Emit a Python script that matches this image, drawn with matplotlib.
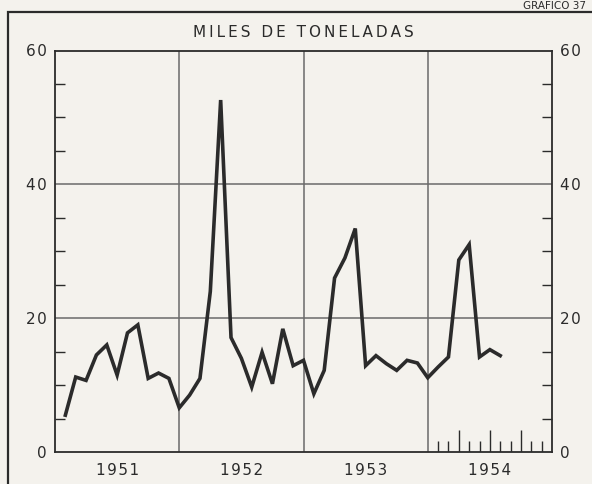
import numpy as np
import matplotlib
matplotlib.use("Agg")
import matplotlib.pyplot as plt
from matplotlib.patches import Rectangle

# valeurs mensuelles (miles de toneladas)
v1951 = [5.5, 11.2, 10.7, 14.5, 16.0, 11.5, 17.8, 19.0, 11.0, 11.8, 11.0, 6.6]
v1952 = [8.5, 11.0, 24.0, 52.6, 17.1, 14.0, 9.7, 14.9, 10.2, 18.4, 12.9, 13.7]
v1953 = [8.7, 12.2, 26.0, 29.0, 33.4, 12.9, 14.4, 13.2, 12.2, 13.7, 13.3, 11.1]
v1954 = [12.7, 14.2, 28.7, 31.0, 14.2, 15.3, 14.4]

annees = ["1951", "1952", "1953", "1954"]
y_ticks = [0, 20, 40, 60]
titre = "MILES DE TONELADAS"
entete = "GRAFICO 37"

valeurs = v1951 + v1952 + v1953 + v1954
mois = np.arange(1, len(valeurs) + 1)

fond = "#f4f2ed"
encre = "#2b2b2b"
gris = "#6a6a6a"


def espace(txt, sep="\u2009"):
    # lettres espacées comme sur l'original
    return sep.join(txt)


fig = plt.figure(figsize=(5.92, 4.84), dpi=100, facecolor=fond)
ax = fig.add_axes([55 / 592, 32 / 484, 497 / 592, 401.5 / 484])
ax.set_facecolor(fond)

ax.set_xlim(0, 48)
ax.set_ylim(0, 60)

# grille : limites des années et lignes 20 / 40
for b in [12, 24, 36]:
    ax.axvline(b, color=gris, lw=1.1, zorder=1)
for h in [20, 40]:
    ax.axhline(h, color=gris, lw=1.1, zorder=1)

# petites graduations mensuelles de 1954
for m in range(37, 48):
    haut = 0.055 if (m - 36) % 3 == 0 else 0.028
    ax.vlines(m, 0, haut, transform=ax.get_xaxis_transform(), color=encre, lw=1.0)

ax.plot(mois, valeurs, color=encre, lw=2.6, solid_joinstyle="miter", zorder=3)

for s in ax.spines.values():
    s.set_color(encre)
    s.set_linewidth(1.3)

ax.set_xticks([6, 18, 30, 42])
ax.set_xticklabels([espace(a, "\u200a") for a in annees])
ax.tick_params(axis="x", length=0, pad=8, labelsize=11, colors=encre)

ax.set_yticks(y_ticks)
ax.set_yticklabels([espace(str(t), "\u200a") for t in y_ticks])
ax.set_yticks([t for t in range(5, 60, 5) if t % 20], minor=True)
ax.tick_params(axis="y", which="major", length=0, pad=6, labelsize=11,
               colors=encre, left=True, right=True, labelleft=True, labelright=True)
ax.tick_params(axis="y", which="minor", direction="in", length=7, width=1.0,
               color=encre, left=True, right=True)

ax.set_title(espace(titre), fontsize=11, color=encre, pad=10)

# cadre extérieur et en-tête en haut à droite
fig.patches.append(Rectangle((8 / 592, -0.1), 1.0, 1.1 - 12 / 484,
                             transform=fig.transFigure, fill=False,
                             edgecolor=encre, lw=1.6))
fig.text(0.99, 1 - 9 / 484, entete, ha="right", va="baseline",
         fontsize=7.5, color=encre)

fig.savefig("out.png", dpi=100, facecolor=fond)
